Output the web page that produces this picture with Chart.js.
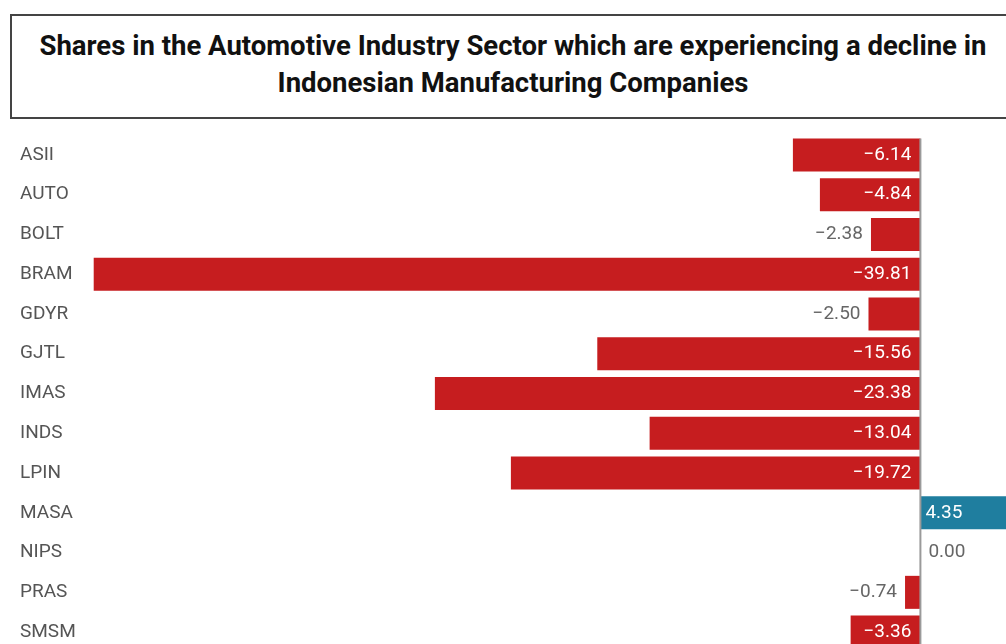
<!DOCTYPE html>
<html>
<head>
<meta charset="utf-8">
<script src="https://cdn.jsdelivr.net/npm/chart.js@4/dist/chart.umd.min.js"></script>
<style>
  body { margin: 0; background: #fff; overflow: hidden; width: 1006px; height: 644px; position: relative; }
  #title-box {
    position: absolute; left: 10px; top: 14px; width: 1006px; height: 105px;
    border: 2px solid #444; box-sizing: border-box;
    font-family: Roboto, sans-serif; font-weight: 700; font-size: 27.5px;
    color: #111; text-align: center; line-height: 37px; padding-top: 11px;
  }
  #chart { position: absolute; left: 0; top: 0; }
</style>
</head>
<body>
<div id="title-box">Shares in the Automotive Industry Sector which are experiencing a decline in<br>Indonesian Manufacturing Companies</div>
<canvas id="chart" width="1045" height="655"></canvas>
<script>
const tickers = ["ASII", "AUTO", "BOLT", "BRAM", "GDYR", "GJTL", "IMAS", "INDS", "LPIN", "MASA", "NIPS", "PRAS", "SMSM"];
const changes = [-6.14, -4.84, -2.38, -39.81, -2.50, -15.56, -23.38, -13.04, -19.72, 4.35, 0.00, -0.74, -3.36];

const RED = "#c61d1f";
const BLUE = "#1f7e9f";
const FONT = "Roboto, sans-serif";

function fmt(v) {
  const s = Math.abs(v).toFixed(2);
  return v < 0 ? "\u2212" + s : s;
}

const labelPlugin = {
  id: "barLabels",
  afterDatasetsDraw(chart) {
    const ctx = chart.ctx;
    const x = chart.scales.x;
    const zero = x.getPixelForValue(0);
    const meta = chart.getDatasetMeta(0);
    const area = chart.chartArea;

    // zero line
    ctx.save();
    ctx.strokeStyle = "#9a9a9a";
    ctx.lineWidth = 2;
    ctx.beginPath();
    ctx.moveTo(zero, meta.data[0].y - meta.data[0].height / 2);
    ctx.lineTo(zero, area.bottom);
    ctx.stroke();

    ctx.font = "19px " + FONT;
    ctx.textBaseline = "middle";
    meta.data.forEach((bar, i) => {
      const v = changes[i];
      const text = fmt(v);
      const tw = ctx.measureText(text).width;
      const w = Math.abs(bar.x - bar.base);
      if (v < 0) {
        if (w > tw + 14) {
          ctx.fillStyle = "#ffffff";
          ctx.textAlign = "right";
          ctx.fillText(text, zero - 9, bar.y);
        } else {
          ctx.fillStyle = "#666";
          ctx.textAlign = "right";
          ctx.fillText(text, bar.x - 8, bar.y);
        }
      } else if (v > 0) {
        ctx.fillStyle = "#ffffff";
        ctx.textAlign = "left";
        ctx.fillText(text, zero + 5, bar.y);
      } else {
        ctx.fillStyle = "#666";
        ctx.textAlign = "left";
        ctx.fillText(text, zero + 8, bar.y);
      }
    });
    ctx.restore();
  }
};

new Chart(document.getElementById("chart"), {
  type: "bar",
  data: {
    labels: tickers,
    datasets: [{
      data: changes,
      backgroundColor: changes.map((v) => (v < 0 ? RED : BLUE)),
      borderWidth: 0,
      barPercentage: 0.83,
      categoryPercentage: 1.0,
    }],
  },
  options: {
    indexAxis: "y",
    responsive: false,
    animation: false,
    layout: { padding: { left: 20, top: 135, bottom: 3, right: 0 } },
    scales: {
      x: { display: false, min: -40.47, max: 6 },
      y: {
        grid: { display: false },
        border: { display: false },
        ticks: {
          crossAlign: "far",
          padding: 0,
          color: "#555",
          font: { family: FONT, size: 19 },
        },
        afterFit(axis) {
          axis.width = 60;
          axis.paddingTop = 0;
          axis.paddingBottom = 0;
        },
      },
    },
    plugins: {
      legend: { display: false },
      tooltip: { enabled: false },
    },
  },
  plugins: [labelPlugin],
});
</script>
</body>
</html>
